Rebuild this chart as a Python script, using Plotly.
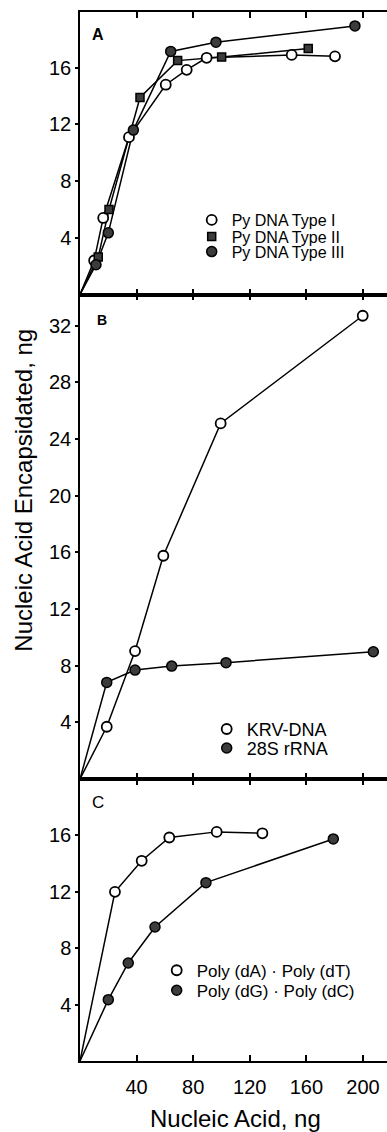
import plotly.graph_objects as go
from plotly.subplots import make_subplots

# ---------------- data ----------------
# Panel A
a1_x = [10.0, 16.4, 34.6, 60.6, 75.4, 89.5, 149.6, 180.2]
a1_y = [2.4, 5.4, 11.1, 14.8, 15.85, 16.7, 16.9, 16.8]
a2_x = [12.9, 20.5, 42.4, 69.0, 100.1, 161.3]
a2_y = [2.65, 6.0, 13.9, 16.5, 16.75, 17.35]
a3_x = [11.3, 20.0, 37.7, 64.1, 96.1, 194.3]
a3_y = [2.1, 4.35, 11.6, 17.15, 17.8, 18.95]
# Panel B
b1_x = [18.9, 38.9, 58.9, 99.4, 199.8]
b1_y = [3.69, 9.03, 15.76, 25.1, 32.7]
b2_x = [18.9, 38.9, 64.8, 103.2, 207.3]
b2_y = [6.82, 7.69, 7.97, 8.21, 8.98]
# Panel C
c1_x = [24.7, 43.6, 63.1, 96.6, 128.9]
c1_y = [12.0, 14.2, 15.85, 16.25, 16.15]
c2_x = [20.0, 34.1, 53.0, 89.0, 179.0]
c2_y = [4.35, 6.95, 9.5, 12.65, 15.75]

names_a = ["Py DNA Type I", "Py DNA Type II", "Py DNA Type III"]
names_b = ["KRV-DNA", "28S rRNA"]
names_c = ["Poly (dA) · Poly (dT)", "Poly (dG) · Poly (dC)"]

x_ticks = [40, 80, 120, 160, 200]
ya_ticks = [4, 8, 12, 16]
yb_ticks = [4, 8, 12, 16, 20, 24, 28, 32]
yc_ticks = [4, 8, 12, 16]

ORIGIN = 0

# ---------------- figure ----------------
W, H = 387, 1132
ML, MR, MT, MB = 80, 0, 12, 71
PH = H - MT - MB
PW = W - ML - MR

FONT = "Liberation Sans, Arial, sans-serif"

fig = make_subplots(rows=3, cols=1, shared_xaxes=True, vertical_spacing=0)

open_circle = dict(symbol="circle", size=10, color="white", line=dict(color="black", width=1.8))
filled_circle = dict(symbol="circle", size=10, color="#3c3c3c", line=dict(color="black", width=1.5))
filled_square = dict(symbol="square", size=8, color="#3c3c3c", line=dict(color="black", width=1.5))

series = [
    (a1_x, a1_y, names_a[0], open_circle, 1, "legend"),
    (a2_x, a2_y, names_a[1], filled_square, 1, "legend2"),
    (a3_x, a3_y, names_a[2], filled_circle, 1, "legend3"),
    (b1_x, b1_y, names_b[0], open_circle, 2, "legend4"),
    (b2_x, b2_y, names_b[1], filled_circle, 2, "legend5"),
    (c1_x, c1_y, names_c[0], open_circle, 3, "legend6"),
    (c2_x, c2_y, names_c[1], filled_circle, 3, "legend7"),
]

# lines first (from origin)
for xs, ys, name, mk, row, lg in series:
    fig.add_trace(go.Scatter(x=[ORIGIN] + xs, y=[ORIGIN] + ys, mode="lines",
                             line=dict(color="black", width=1.5),
                             showlegend=False, hoverinfo="skip"), row=row, col=1)
# then markers
for xs, ys, name, mk, row, lg in series:
    fig.add_trace(go.Scatter(x=xs, y=ys, mode="markers", name=name, marker=mk,
                             legend=lg, showlegend=True, cliponaxis=False), row=row, col=1)

x_range = [0, PW / 1.415]
ya_range = [0, 19.93]
yb_range = [0, 34.2]
yc_range = [0, 20.0]

# domains in paper coords
dC = [0, 282 / PH]
dB = [282 / PH, (H - MB - 294.5) / PH]
dA = [(H - MB - 294.5) / PH, 1]

xax = dict(range=x_range, showline=True, linecolor="black", linewidth=1.5,
           ticks="inside", ticklen=6, tickwidth=1.5, tickcolor="black",
           mirror="ticks", showgrid=False, zeroline=False, automargin=False,
           tickvals=x_ticks, tickfont=dict(family=FONT, size=20, color="black"))
fig.update_xaxes(**xax)
fig.update_xaxes(ticklabelstandoff=7, row=3, col=1)

def yax(rng, ticks, dom):
    return dict(range=rng, domain=dom, showline=True, linecolor="black", linewidth=1.5,
                ticks="outside", ticklen=3, tickwidth=1.5, tickcolor="black",
                showgrid=False, zeroline=False, tickvals=ticks, automargin=False,
                tickfont=dict(family=FONT, size=20, color="black"))

fig.update_layout(
    yaxis=yax(ya_range, ya_ticks, dA),
    yaxis2=yax(yb_range, yb_ticks, dB),
    yaxis3=yax(yc_range, yc_ticks, dC),
)

def yright(over, rng, ticks):
    return dict(overlaying=over, side="right", anchor=over.replace("y", "x"), range=rng,
                tickvals=ticks, ticks="inside", ticklen=6, tickwidth=1.5, tickcolor="black",
                showticklabels=False, showline=False, showgrid=False, zeroline=False,
                automargin=False)

fig.update_layout(
    yaxis4=yright("y", ya_range, ya_ticks),
    yaxis5=yright("y2", yb_range, yb_ticks),
    yaxis6=yright("y3", yc_range, yc_ticks),
)

def px_to_paper_x(px):
    return (px - ML) / PW

def px_to_paper_y(py):
    return (H - MB - py) / PH

def leg(text_start_px, center_py, size):
    return dict(x=px_to_paper_x(text_start_px - 40), y=px_to_paper_y(center_py),
                xanchor="left", yanchor="middle", bgcolor="rgba(0,0,0,0)",
                font=dict(family=FONT, size=size, color="black"),
                itemclick=False, itemdoubleclick=False)

fig.update_layout(
    legend=leg(231.7, 220.0, 16),
    legend2=leg(231.7, 236.7, 16),
    legend3=leg(231.7, 251.7, 16),
    legend4=leg(246.7, 729.3, 18),
    legend5=leg(246.7, 748.3, 18),
    legend6=leg(196.7, 970.7, 17),
    legend7=leg(196.7, 990.7, 17),
)

annotations = [
    dict(text="<b>A</b>", x=px_to_paper_x(98), y=px_to_paper_y(35), font=dict(size=16)),
    dict(text="<b>B</b>", x=px_to_paper_x(101.7), y=px_to_paper_y(320), font=dict(size=14)),
    dict(text="C", x=px_to_paper_x(98.3), y=px_to_paper_y(802.7), font=dict(size=17)),
    dict(text="Nucleic Acid Encapsidated, ng", x=px_to_paper_x(22.7), y=px_to_paper_y(490),
         textangle=-90, font=dict(size=24)),
    dict(text="Nucleic Acid, ng", x=px_to_paper_x(235.5), y=px_to_paper_y(1118.5),
         font=dict(size=24)),
]
for a in annotations:
    a.update(xref="paper", yref="paper", showarrow=False, xanchor="center", yanchor="middle")
    a["font"].update(family=FONT, color="black")

fig.update_layout(
    template="none",
    annotations=annotations,
    width=W, height=H,
    margin=dict(l=ML, r=MR, t=MT, b=MB, pad=0, autoexpand=False),
    paper_bgcolor="white", plot_bgcolor="white",
    font=dict(family=FONT, color="black"),
    hovermode=False,
)

fig.write_html("out.html", config={"displayModeBar": False},
               post_script="document.body.style.margin='0px';document.body.style.overflow='hidden';")
